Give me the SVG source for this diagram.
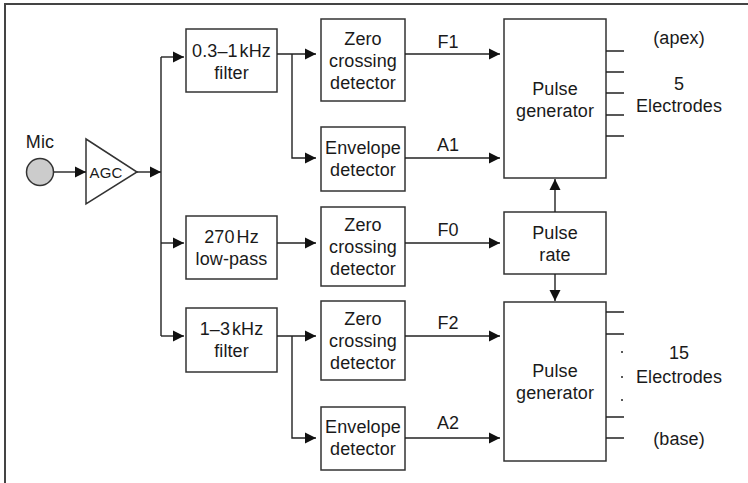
<svg xmlns="http://www.w3.org/2000/svg" width="748" height="483" viewBox="0 0 748 483">
  <defs>
    <marker id="arrow" markerUnits="userSpaceOnUse" markerWidth="12" markerHeight="12" refX="11" refY="6" orient="auto">
      <path d="M0,0.5 L11,6 L0,11.5 z" fill="#111"/>
    </marker>
    <style>
      .frame { fill: none; stroke: #444; stroke-width: 2; }
      .box { fill: #fff; stroke: #333; stroke-width: 1.5; }
      .wire { fill: none; stroke: #222; stroke-width: 1.4; }
      .arr { fill: none; stroke: #222; stroke-width: 1.4; marker-end: url(#arrow); }
      text { font-family: "Liberation Sans", Arial, Helvetica, sans-serif; font-size: 18px; fill: #1a1a1a; text-anchor: middle; letter-spacing: 0.1px; }
      .small { font-size: 15px; }
    </style>
  </defs>

  <rect width="748" height="483" fill="#fff"/>
  <path class="frame" d="M5,483 V4 H748"/>

  <!-- microphone -->
  <g id="mic">
    <circle cx="40" cy="172" r="13.5" fill="#cccccc" stroke="#333" stroke-width="1.5"/>
    <text x="40" y="148">Mic</text>
  </g>

  <!-- automatic gain control -->
  <g id="agc">
    <path class="box" d="M86,139 L137,172 L86,204 z"/>
    <text class="small" x="106" y="178">AGC</text>
  </g>

  <!-- band filters -->
  <g id="filter-low">
    <rect class="box" x="186" y="29" width="91" height="63"/>
    <text x="231.5" y="57">0.3–1<tspan dx="2">kHz</tspan></text>
    <text x="231.5" y="79">filter</text>
  </g>
  <g id="lowpass">
    <rect class="box" x="186" y="216" width="91" height="63"/>
    <text x="231.5" y="243">270<tspan dx="2">Hz</tspan></text>
    <text x="231.5" y="265">low-pass</text>
  </g>
  <g id="filter-high">
    <rect class="box" x="186" y="308" width="91" height="64"/>
    <text x="231.5" y="335">1–3<tspan dx="2">kHz</tspan></text>
    <text x="231.5" y="357">filter</text>
  </g>

  <!-- detectors -->
  <g id="zc1">
    <rect class="box" x="321" y="19" width="84" height="82"/>
    <text x="363" y="45">Zero</text>
    <text x="363" y="67">crossing</text>
    <text x="363" y="89">detector</text>
  </g>
  <g id="env1">
    <rect class="box" x="321" y="127" width="84" height="64"/>
    <text x="363" y="154">Envelope</text>
    <text x="363" y="176">detector</text>
  </g>
  <g id="zc0">
    <rect class="box" x="321" y="207" width="84" height="79"/>
    <text x="363" y="231">Zero</text>
    <text x="363" y="253">crossing</text>
    <text x="363" y="275">detector</text>
  </g>
  <g id="zc2">
    <rect class="box" x="321" y="301" width="84" height="79"/>
    <text x="363" y="325">Zero</text>
    <text x="363" y="347">crossing</text>
    <text x="363" y="369">detector</text>
  </g>
  <g id="env2">
    <rect class="box" x="321" y="407" width="84" height="63"/>
    <text x="363" y="433">Envelope</text>
    <text x="363" y="455">detector</text>
  </g>

  <!-- pulse stages -->
  <g id="pulse-gen-apex">
    <rect class="box" x="504" y="19" width="102" height="159"/>
    <text x="555" y="95">Pulse</text>
    <text x="555" y="117">generator</text>
  </g>
  <g id="pulse-rate">
    <rect class="box" x="504" y="212" width="102" height="62"/>
    <text x="555" y="239">Pulse</text>
    <text x="555" y="261">rate</text>
  </g>
  <g id="pulse-gen-base">
    <rect class="box" x="504" y="302" width="102" height="159"/>
    <text x="555" y="377">Pulse</text>
    <text x="555" y="399">generator</text>
  </g>

  <!-- electrode outputs -->
  <g id="electrodes-apex">
    <path class="wire" d="M606,51 H624 M606,72 H624 M606,93 H624 M606,115 H624 M606,136 H624"/>
    <text x="679" y="44">(apex)</text>
    <text x="679" y="90">5</text>
    <text x="679" y="112">Electrodes</text>
  </g>
  <g id="electrodes-base">
    <path class="wire" d="M606,312 H624 M606,334 H624 M606,417 H624 M606,438 H624"/>
    <circle cx="622" cy="352" r="1" fill="#222"/>
    <circle cx="622" cy="377" r="1" fill="#222"/>
    <circle cx="622" cy="400" r="1" fill="#222"/>
    <text x="679" y="359">15</text>
    <text x="679" y="383">Electrodes</text>
    <text x="679" y="445">(base)</text>
  </g>

  <!-- connectors -->
  <g id="connectors">
    <path class="arr" d="M54,172 H86"/>
    <path class="arr" d="M137,172 H161"/>
    <path class="wire" d="M161,57 V336"/>
    <path class="arr" d="M161,57 H184"/>
    <path class="arr" d="M161,243 H184"/>
    <path class="arr" d="M161,336 H184"/>

    <path class="arr" d="M277,54 H316"/>
    <path class="arr" d="M292,54 V158 H316"/>
    <path class="arr" d="M277,243 H316"/>
    <path class="arr" d="M277,336 H316"/>
    <path class="arr" d="M292,336 V438 H316"/>

    <path class="arr" d="M405,54 H500"/>
    <path class="arr" d="M405,158 H500"/>
    <path class="arr" d="M405,243 H500"/>
    <path class="arr" d="M405,336 H500"/>
    <path class="arr" d="M405,438 H500"/>

    <path class="arr" d="M555,212 V179"/>
    <path class="arr" d="M555,274 V301"/>

    <text x="448" y="48">F1</text>
    <text x="448" y="151">A1</text>
    <text x="448" y="236">F0</text>
    <text x="448" y="329">F2</text>
    <text x="448" y="429">A2</text>
  </g>
</svg>
